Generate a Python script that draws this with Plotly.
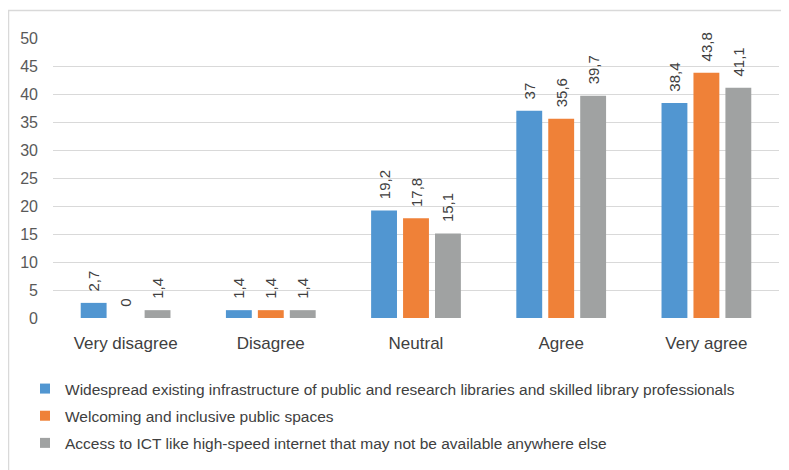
import plotly.graph_objects as go

categories = ["Very disagree", "Disagree", "Neutral", "Agree", "Very agree"]
series_names = [
    "Widespread existing infrastructure of public and research libraries and skilled library professionals",
    "Welcoming and inclusive public spaces",
    "Access to ICT like high-speed internet that may not be available anywhere else",
]
infrastructure = [2.7, 1.4, 19.2, 37.0, 38.4]
welcoming = [0.0, 1.4, 17.8, 35.6, 43.8]
ict_access = [1.4, 1.4, 15.1, 39.7, 41.1]
colors = ["#5196D1", "#EF8138", "#A0A2A2"]
y_ticks = [0, 5, 10, 15, 20, 25, 30, 35, 40, 45, 50]

# page body adds an 8px offset; figure sized to fill the remaining window
OFF = 8
W, H = 789 - OFF, 470 - OFF
ML, MT = 53 - OFF, 38 - OFF
PR, PB = 779 - OFF, 318 - OFF
MR, MB = W - PR, H - PB
PW, PH = W - ML - MR, H - MT - MB


def fmt(v):
    s = f"{v:.1f}".rstrip("0").rstrip(".")
    return "\u00a0\u00a0" + s.replace(".", ",")


def px_x(p):
    return (p - OFF - ML) / PW


def px_y(p):
    return (PB - (p - OFF)) / PH


fig = go.Figure()
for i, (name, vals) in enumerate(zip(series_names, [infrastructure, welcoming, ict_access])):
    fig.add_trace(go.Bar(
        x=categories, y=vals, name=name,
        marker=dict(color=colors[i], line=dict(width=0)),
        text=[fmt(v) for v in vals], textposition="outside",
        textangle=-90, constraintext="none",
        textfont=dict(size=15, color="#404040", family="Liberation Sans"),
        cliponaxis=False, showlegend=False,
    ))
for i, name in enumerate(series_names):
    fig.add_trace(go.Scatter(
        x=[None], y=[None], mode="markers", name=name,
        marker=dict(symbol="square", size=10, color=colors[i]),
        legendgroup=f"g{i}", showlegend=True,
    ))

fig.update_layout(
    width=W, height=H,
    margin=dict(l=ML, r=MR, t=MT, b=MB, pad=0),
    paper_bgcolor="white", plot_bgcolor="white",
    barmode="group", bargap=0.34, bargroupgap=0.19,
    font=dict(family="Liberation Sans", color="#595959"),
    xaxis=dict(
        showgrid=False, showline=False, zeroline=False, ticks="",
        tickfont=dict(size=17, color="#404040"), ticklabelstandoff=13,
    ),
    yaxis=dict(
        range=[0, 50], tickvals=y_ticks, showgrid=True, gridcolor="#D9D9D9",
        gridwidth=1, zeroline=False, showline=False, ticks="",
        tickfont=dict(size=16, color="#595959"), ticklabelstandoff=14,
    ),
    legend=dict(
        orientation="v", x=px_x(25), xanchor="left",
        y=px_y(372), yanchor="top",
        font=dict(size=15.5, color="#404040", family="Liberation Sans"),
        tracegroupgap=4, bgcolor="rgba(0,0,0,0)",
    ),
    shapes=[dict(
        type="rect", xref="paper", yref="paper",
        x0=px_x(8.5), x1=px_x(800),
        y0=px_y(480), y1=px_y(10.5),
        line=dict(color="#D9D9D9", width=1.5), fillcolor="rgba(0,0,0,0)", layer="below",
    )],
)

fig.write_html("out.html")
